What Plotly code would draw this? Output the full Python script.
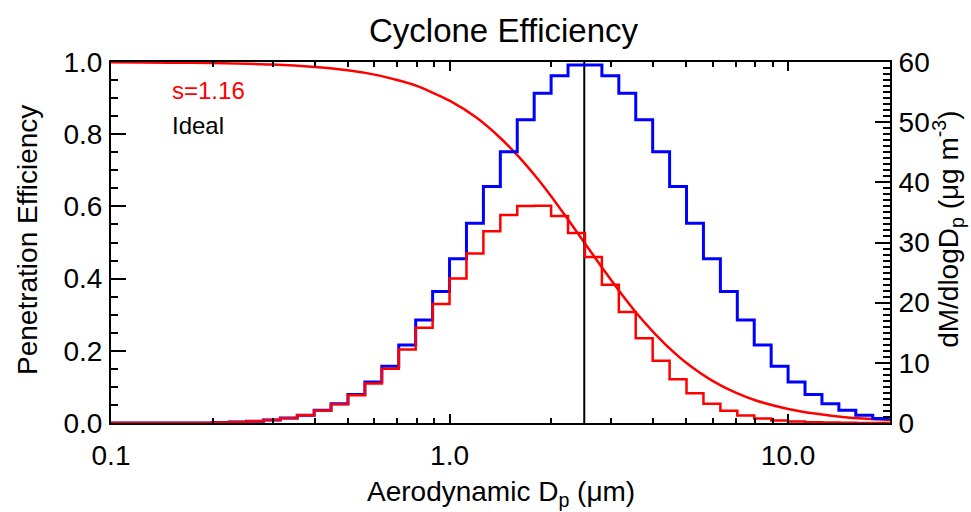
import numpy as np
import plotly.graph_objects as go

# Log-spaced size bins: 20 per decade, lower edges from 0.1 um (k = -20 .. 25)
BINS_PER_DECADE = 20
k_lo, k_hi = -20, 25

# Ambient mass distribution, dM/dlogDp (ug m^-3), one value per bin
ambient_mass = [0, 0, 0, 0, 0, 0,
                0.10, 0.17, 0.30, 0.50, 0.82, 1.30, 2.10, 3.20, 4.75, 6.80,
                9.45, 12.95, 17.10, 21.85, 27.30, 33.20, 39.30, 45.10, 50.40, 54.80,
                57.70, 59.50, 59.50, 57.70, 54.80, 50.40, 45.10, 39.30, 33.20, 27.30,
                21.85, 17.10, 12.95, 9.45, 6.80, 4.75, 3.20, 2.10, 1.30, 0.75]

# Mass passing the cyclone, dM/dlogDp (ug m^-3)
penetrated_mass = [0, 0, 0, 0, 0, 0,
                   0.10, 0.17, 0.30, 0.50, 0.81, 1.28, 2.07, 3.13, 4.62, 6.56,
                   9.03, 12.20, 15.83, 19.79, 24.02, 28.18, 31.88, 34.59, 36.08, 36.09,
                   34.40, 31.57, 27.60, 22.99, 18.44, 14.10, 10.34, 7.29, 4.93, 3.21,
                   2.03, 1.24, 0.73, 0.41, 0.23, 0.12, 0.065, 0.033, 0.016, 0.007]

# Penetration efficiency curve (s = 1.16)
eff_dp = [0.1, 0.15, 0.2, 0.3, 0.4, 0.5, 0.6, 0.7, 0.8, 1.0, 1.2, 1.4, 1.6, 1.8, 2.0,
          2.25, 2.5, 2.8, 3.2, 3.6, 4.0, 4.5, 5.0, 6.0, 7.0, 8.0, 10.0, 12.0, 15.0, 20.0]
efficiency = [0.999, 0.998, 0.997, 0.993, 0.986, 0.977, 0.965, 0.950, 0.934, 0.893,
              0.846, 0.793, 0.738, 0.682, 0.627, 0.561, 0.500, 0.435, 0.361, 0.300,
              0.252, 0.204, 0.167, 0.116, 0.084, 0.063, 0.039, 0.026, 0.015, 0.008]

# Ideal sharp cut at 2.5 um
ideal_cut = 2.5

x_ticks = [0.1, 1.0, 10.0]
x_tick_text = ["0.1", "1.0", "10.0"]

edges = 10.0 ** (np.arange(k_lo, k_hi + 2) / BINS_PER_DECADE)


def steps(values):
    # hv-shaped step outline: value held over each bin, closed at the last edge
    return list(edges), list(values) + [values[-1]]


FONT = "Liberation Sans, Arial, Helvetica, sans-serif"

fig = go.Figure()

bx, by = steps(ambient_mass)
fig.add_trace(go.Scatter(x=bx, y=by, mode="lines", line=dict(color="#0000ff", width=3, shape="hv"),
                         yaxis="y2", showlegend=False, hoverinfo="skip"))
rx, ry = steps(penetrated_mass)
fig.add_trace(go.Scatter(x=rx, y=ry, mode="lines", line=dict(color="#ff0000", width=2.5, shape="hv"),
                         yaxis="y2", showlegend=False, hoverinfo="skip"))
fig.add_trace(go.Scatter(x=eff_dp, y=efficiency, mode="lines",
                         line=dict(color="#ff0000", width=2.5, shape="spline", smoothing=0.6),
                         yaxis="y", showlegend=False, hoverinfo="skip"))
fig.add_trace(go.Scatter(x=[ideal_cut, ideal_cut], y=[0, 1], mode="lines",
                         line=dict(color="black", width=2), showlegend=False, hoverinfo="skip"))

minor_x = [m * d for d in (0.1, 1.0, 10.0) for m in range(2, 10) if m * d <= 20]

axis_common = dict(showline=True, linecolor="black", linewidth=2, ticks="inside",
                   tickcolor="black", tickwidth=2, showgrid=False, zeroline=False,
                   tickfont=dict(family=FONT, size=28, color="black"))

fig.update_layout(
    width=971, height=512,
    margin=dict(l=111, r=81, t=62, b=89),
    paper_bgcolor="white", plot_bgcolor="white",
    xaxis=dict(type="log", range=[-1, np.log10(20)], tickvals=x_ticks, ticktext=x_tick_text,
               ticklen=9, mirror="ticks",
               minor=dict(tickvals=minor_x, ticklen=5, tickwidth=2, tickcolor="black", ticks="inside"),
               ticklabelstandoff=6, **axis_common),
    yaxis=dict(range=[0, 1], dtick=0.2, tickformat=".1f", ticklen=15,
               minor=dict(dtick=0.05, ticklen=7, tickwidth=2, tickcolor="black", ticks="inside"),
               ticklabelstandoff=1, **axis_common),
    yaxis2=dict(range=[0, 60], dtick=10, ticklen=15, overlaying="y", side="right",
                minor=dict(dtick=1, ticklen=7, tickwidth=2, tickcolor="black", ticks="inside"),
                ticklabelstandoff=1, **axis_common),
    font=dict(family=FONT, color="black"),
    annotations=[
        dict(text="Cyclone Efficiency", xref="paper", yref="paper", x=0.504, y=1,
             yshift=32, xanchor="center", yanchor="middle", showarrow=False,
             font=dict(size=33, family=FONT)),
        dict(text="Aerodynamic D<sub>p</sub> (μm)", xref="paper", yref="paper", x=0.5, y=0,
             yshift=-70, xanchor="center", yanchor="middle", showarrow=False,
             font=dict(size=28, family=FONT)),
        dict(text="Penetration Efficiency", xref="paper", yref="paper", x=0, y=0.507,
             xshift=-83, xanchor="center", yanchor="middle", textangle=-90, showarrow=False,
             font=dict(size=28, family=FONT)),
        dict(text="dM/dlogD<sub>p</sub> (μg m<sup>-3</sup>)", xref="paper", yref="paper", x=1, y=0.535,
             xshift=58, xanchor="center", yanchor="middle", textangle=-90, showarrow=False,
             font=dict(size=28, family=FONT)),
        dict(text="s=1.16", xref="paper", yref="paper", x=0.076, y=0.92,
             xanchor="left", yanchor="middle", showarrow=False,
             font=dict(size=24, family=FONT, color="#ff0000")),
        dict(text="Ideal", xref="paper", yref="paper", x=0.076, y=0.823,
             xanchor="left", yanchor="middle", showarrow=False,
             font=dict(size=24, family=FONT, color="black")),
    ],
)

fig.write_html("out.html")
